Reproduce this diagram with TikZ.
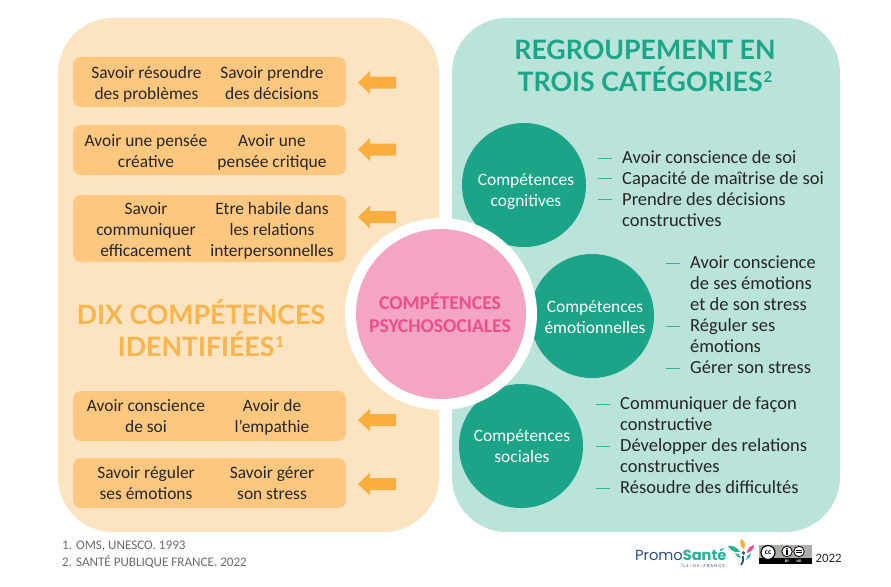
\documentclass[tikz,border=0pt]{standalone}
\usepackage{fontspec}
\setmainfont{Carlito}
\newfontfamily\titlefont{Lato}
\newfontfamily\logofont{Poppins}
\definecolor{panelO}{HTML}{FCE4C2}
\definecolor{panelG}{HTML}{BAE3DA}
\definecolor{boxO}{HTML}{FDC77F}
\definecolor{arrO}{HTML}{F9AE3E}
\definecolor{titO}{HTML}{F9B44B}
\definecolor{titG}{HTML}{1CA587}
\definecolor{circG}{HTML}{1BA487}
\definecolor{pinkC}{HTML}{F4A5C3}
\definecolor{pinkT}{HTML}{EE4F8B}
\definecolor{txt}{HTML}{262626}
\definecolor{grayT}{HTML}{6B6B6B}
\definecolor{logoB}{HTML}{2E4B8F}
\definecolor{logoG}{HTML}{25B39A}
\definecolor{ccG}{HTML}{A9ADA8}
\definecolor{dashC}{HTML}{35B598}
\tikzset{
 x=1pt,y=-1pt,
 panel/.style={rounded corners=55pt,draw=none},
 okbox/.style={fill=boxO,rounded corners=8pt,draw=none},
 lab/.style={yshift=-4pt,font=\fontsize{17.4}{21}\selectfont,text=txt,align=center,inner sep=0pt,execute at begin node=\strut,execute at end node=\strut},
 rl/.style={yshift=-0.5pt,font=\fontsize{18.5}{21}\selectfont,text=txt,anchor=base west,inner sep=0pt},
 dashm/.style={draw=dashC,line width=1pt},
 gc/.style={circle,fill=circG,minimum size=124pt,inner sep=0pt},
 gl/.style={yshift=-4pt,text=white,align=center,inner sep=0pt,font=\fontsize{17.4}{21}\selectfont,execute at begin node=\strut,execute at end node=\strut},
 tit/.style={font=\titlefont\bfseries\fontsize{26.7}{31.5}\selectfont,align=center,inner sep=0pt},
 foot/.style={font=\fontsize{13.1}{16}\selectfont,text=grayT,anchor=west,inner sep=0pt},
}
\newcommand{\larrow}[1]{\fill[arrO] (358,#1) -- (370,#1-11.5) -- (370,#1-6) -- (396,#1-6) -- (396,#1+6) -- (370,#1+6) -- (370,#1+11.5) -- cycle;}
\newcommand{\supn}[1]{\kern1pt\raisebox{0.62ex}{\fontsize{15}{15}\selectfont #1}}
\begin{document}
\begin{tikzpicture}
\useasboundingbox (0,0) rectangle (891,586);
\fill[white] (0,0) rectangle (891,586);
\fill[panelO,panel] (58,18) rectangle (439,532);
\fill[panelG,panel] (452,18) rectangle (840,532);
% left boxes
\foreach \t/\b in {57/107,125/175,195/262,391/441,458/508}{
 \fill[okbox] (73,\t) rectangle (346,\b);
}
\node[lab] (a1) at (146.5,82.5) {Savoir résoudre\\des problèmes};
\node[lab] (a2) at (272,82.5) {Savoir prendre\\des décisions};
\node[lab] (b1) at (146,150.5) {Avoir une pensée\\créative};
\node[lab] (b2) at (272,150.5) {Avoir une\\pensée critique};
\node[lab] (c1) at (146,229) {Savoir\\communiquer\\efficacement};
\node[lab] (c2) at (272,229) {Etre habile dans\\les relations\\interpersonnelles};
\node[lab] (d1) at (146,415.5) {Avoir conscience\\de soi};
\node[lab] (d2) at (272,415.5) {Avoir de\\l’empathie};
\node[lab] (e1) at (146,482.5) {Savoir réguler\\ses émotions};
\node[lab] (e2) at (272,482.5) {Savoir gérer\\son stress};
\larrow{82.5}\larrow{149.5}\larrow{217}\larrow{420}\larrow{484}
\node[tit,text=titO] (t1) at (201,328) {DIX COMPÉTENCES\\IDENTIFIÉES\supn{1}};
\node[tit,text=titG] (t2) at (645,66) {REGROUPEMENT EN\\TROIS CATÉGORIES\supn{2}};
% circles
\node[gc] (cg) at (524,185) {};
\node[gc] (ce) at (592,316) {};
\node[gc] (cs) at (521,446) {};
\node[gl] (cgl) at (526,189.5) {Compétences\\cognitives};
\node[gl] (cel) at (595,316.5) {Compétences\\émotionnelles};
\node[gl] (csl) at (522,445.5) {Compétences\\sociales};
\node[circle,fill=white,minimum size=192pt,inner sep=0pt] (ring) at (441,314) {};
\node[circle,fill=pinkC,minimum size=170pt,inner sep=0pt] (pc) at (441,314) {};
\node[text=pinkT,align=center,inner sep=0pt,font=\bfseries\fontsize{19.6}{23}\selectfont] (pcl) at (440,312.5) {COMPÉTENCES\\PSYCHOSOCIALES};
% right texts
\foreach \y in {158,178,199.5}{\draw[dashm] (598,\y) -- (612,\y);}
\node[rl] (r1) at (622,163) {Avoir conscience de soi};
\node[rl] (r2) at (622,184) {Capacité de maîtrise de soi};
\node[rl] (r3) at (622,204.5) {Prendre des décisions};
\node[rl] (r4) at (622,225.5) {constructives};
\foreach \y in {263,326,368}{\draw[dashm] (666,\y) -- (680,\y);}
\node[rl] (r5) at (690,268) {Avoir conscience};
\node[rl] (r6) at (690,289) {de ses émotions};
\node[rl] (r7) at (690,310) {et de son stress};
\node[rl] (r8) at (690,331) {Réguler ses};
\node[rl] (r9) at (690,352) {émotions};
\node[rl] (r10) at (690,373) {Gérer son stress};
\foreach \y in {404,446,488}{\draw[dashm] (596,\y) -- (610,\y);}
\node[rl] (r11) at (620,409) {Communiquer de façon};
\node[rl] (r12) at (620,430) {constructive};
\node[rl] (r13) at (620,451) {Développer des relations};
\node[rl] (r14) at (620,472) {constructives};
\node[rl] (r15) at (620,493) {Résoudre des difficultés};
% footnotes
\node[foot] (f1) at (62,546) {1. OMS, UNESCO. 1993};
\node[foot] (f2) at (62,562) {2. SANTÉ PUBLIQUE FRANCE. 2022};
% logo
\node[anchor=base west,inner sep=0pt,font=\logofont\fontsize{14.6}{16}\selectfont] (promo) at (635,560) {\textcolor{logoB}{Promo}\textcolor{logoG}{\bfseries Santé}};
\node[anchor=base east,inner sep=0pt,font=\logofont\addfontfeature{LetterSpace=25}\fontsize{4.2}{4}\selectfont,text=logoB] (idf) at (725,567) {ÎLE-DE-FRANCE};
\fill[logoG] (728,546) .. controls (733,545) and (738,548) .. (740,552) .. controls (735,553) and (731,551) .. (728,546) -- cycle;
\fill[logoG] (735,553) .. controls (738,553) and (740,555) .. (741,558) .. controls (738,558) and (736,556) .. (735,553) -- cycle;
\fill[arrO] (741,539) .. controls (745,541) and (746,545) .. (744,549) .. controls (741,548) and (739,543) .. (741,539) -- cycle;
\fill[pinkT] (754,545) .. controls (754,549) and (751,552) .. (747,553) .. controls (747,549) and (750,546) .. (754,545) -- cycle;
\fill[logoG] (751,553) .. controls (751,556) and (749,559) .. (746,560) .. controls (746,557) and (748,554) .. (751,553) -- cycle;
\fill[logoB] (743.5,553) circle (1.8);
\draw[logoB,line width=1.8pt] (743,556) .. controls (744,559) and (743,562) .. (741,565);
% cc badge
\fill[ccG] (759,545) rectangle (812,564);
\fill[black] (759,558) rectangle (812,564);
\node[circle,fill=white,draw=black,line width=1.2pt,minimum size=14pt,inner sep=0pt,font=\bfseries\fontsize{7.5}{7}\selectfont] (cc) at (768,552.5) {cc};
\node[circle,fill=white,draw=black,line width=.8pt,minimum size=10.5pt,inner sep=0pt] (by) at (787,551.5) {};
\fill[black] (787,548.8) circle (1);
\fill[black] (785.8,550.3) rectangle (788.2,554.5);
\node[circle,fill=white,draw=black,line width=.8pt,minimum size=10.5pt,inner sep=0pt] (nd) at (799,551.5) {};
\fill[black] (796,549.6) rectangle (802,550.8);
\fill[black] (796,552.2) rectangle (802,553.4);
\node[inner sep=0pt,text=white,font=\bfseries\fontsize{3.8}{4}\selectfont] (byt) at (787,561) {BY};
\node[inner sep=0pt,text=white,font=\bfseries\fontsize{3.8}{4}\selectfont] (ndt) at (799,561) {ND};
\node[anchor=base west,inner sep=0pt,text=txt,font=\fontsize{12.8}{13}\selectfont] (yr) at (815.5,562) {2022};
\end{tikzpicture}
\end{document}
